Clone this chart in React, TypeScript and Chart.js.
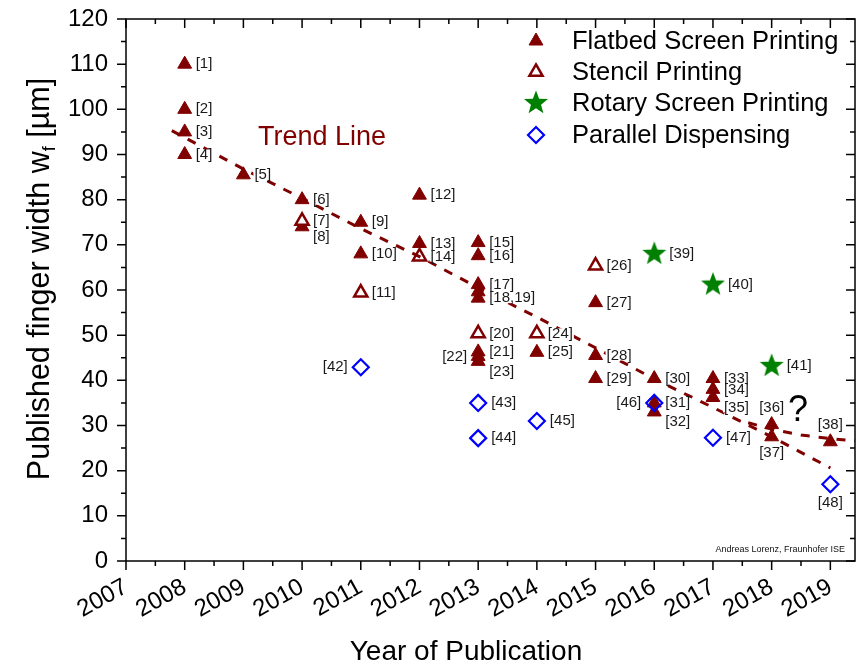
import React, { useEffect, useRef } from 'react';
import { Chart, registerables } from 'chart.js';
import { drawPoint } from 'chart.js/helpers';

Chart.register(...registerables);

// ---------------- data ----------------
const yearTicks = [2007, 2008, 2009, 2010, 2011, 2012, 2013, 2014, 2015, 2016, 2017, 2018, 2019];
const widthTicks = [0, 10, 20, 30, 40, 50, 60, 70, 80, 90, 100, 110, 120];

const flatbedYears = [2008, 2008, 2008, 2008, 2009, 2010, 2010, 2011, 2011, 2012, 2012, 2013, 2013, 2013, 2013, 2013, 2013, 2013, 2013, 2014, 2015, 2015, 2015, 2016, 2016, 2016, 2017, 2017, 2017, 2018, 2018, 2019];
const flatbedWidths = [110, 100, 95, 90, 85.5, 80, 74, 75, 68, 81, 70.3, 70.5, 67.6, 61.2, 59.6, 58.2, 46.3, 45.3, 44.2, 46.2, 57.2, 45.5, 40.4, 40.4, 35, 33, 40.4, 38, 36.2, 30.2, 27.5, 26.4];
const flatbedRefs = ['[1]', '[2]', '[3]', '[4]', '[5]', '[6]', '[8]', '[9]', '[10]', '[12]', '[13]', '[15]', '[16]', '[17]', '', '[18,19]', '[21]', '[22]', '[23]', '[25]', '[27]', '[28]', '[29]', '[30]', '[31]', '[32]', '[33]', '[34]', '[35]', '[36]', '[37]', '[38]'];
const flatbedAnchors = ['r', 'r', 'r', 'r', 'r', 'r', 'rb', 'r', 'r', 'r', 'r', 'r', 'r', 'r', 'r', 'r', 'r', 'l', 'rb', 'r', 'r', 'r', 'r', 'r', 'r', 'rb', 'r', 'r', 'rb', 't', 'b', 't'];

const stencilYears = [2010, 2011, 2012, 2013, 2014, 2015];
const stencilWidths = [75.3, 59.4, 67.4, 50.4, 50.4, 65.4];
const stencilRefs = ['[7]', '[11]', '[14]', '[20]', '[24]', '[26]'];
const stencilAnchors = ['r', 'r', 'r', 'r', 'r', 'r'];

const rotaryYears = [2016, 2017, 2018];
const rotaryWidths = [68, 61.2, 43.2];
const rotaryRefs = ['[39]', '[40]', '[41]'];
const rotaryAnchors = ['r', 'r', 'r'];

const dispensingYears = [2011, 2013, 2013, 2014, 2016, 2017, 2019];
const dispensingWidths = [42.9, 35, 27.2, 31, 35, 27.3, 17];
const dispensingRefs = ['[42]', '[43]', '[44]', '[45]', '[46]', '[47]', '[48]'];
const dispensingAnchors = ['l', 'r', 'r', 'r', 'l', 'r', 'b'];

const trendYears = [2007.78, 2009, 2010, 2011, 2012, 2013, 2014, 2015, 2016, 2017, 2018, 2019];
const trendWidths = [95.3, 86.8, 80.3, 73.6, 67.4, 60.5, 54, 47.2, 40.3, 34, 27.5, 20.6];
const saturationYears = [2017.6, 2018, 2018.5, 2019, 2019.42];
const saturationWidths = [30.6, 29.2, 27.9, 27.1, 26.6];

const seriesNames = ['Flatbed Screen Printing', 'Stencil Printing', 'Rotary Screen Printing', 'Parallel Dispensing'];

// ---------------- styling ----------------
const FONT = '"Liberation Sans", Arial, Helvetica, sans-serif';
const DARK_RED = '#800000';
const GREEN = '#008000';
const BLUE = '#0000ff';

function makeStar(r: number, color: string): HTMLCanvasElement {
  const s = Math.ceil(2 * r + 4);
  const c = document.createElement('canvas');
  c.width = s;
  c.height = s;
  const g = c.getContext('2d')!;
  g.fillStyle = color;
  g.beginPath();
  for (let i = 0; i < 10; i++) {
    const rad = i % 2 === 0 ? r : r * 0.42;
    const a = -Math.PI / 2 + (i * Math.PI) / 5;
    const px = s / 2 + rad * Math.cos(a);
    const py = s / 2 + rad * Math.sin(a);
    if (i === 0) g.moveTo(px, py);
    else g.lineTo(px, py);
  }
  g.closePath();
  g.fill();
  return c;
}

const zip = (xs: number[], ys: number[]) => xs.map((x, i) => ({ x, y: ys[i] }));

export default function App() {
  const ref = useRef<HTMLCanvasElement | null>(null);

  useEffect(() => {
    document.body.style.margin = '0';
    const canvas = ref.current;
    if (!canvas) return;
    const star = makeStar(12.6, GREEN);

    const markerSeries = [
      { refs: flatbedRefs, anchors: flatbedAnchors, gap: 11, vgap: 16 },
      { refs: stencilRefs, anchors: stencilAnchors, gap: 11, vgap: 16 },
      { refs: rotaryRefs, anchors: rotaryAnchors, gap: 15, vgap: 18 },
      { refs: dispensingRefs, anchors: dispensingAnchors, gap: 13, vgap: 19 },
    ];

    const legendItems = [
      { pointStyle: 'triangle', radius: 8, fill: DARK_RED, stroke: DARK_RED, bw: 1 },
      { pointStyle: 'triangle', radius: 7.6, fill: '#ffffff', stroke: DARK_RED, bw: 2.5 },
      { pointStyle: star, radius: 12.6, fill: GREEN, stroke: GREEN, bw: 0 },
      { pointStyle: 'rectRot', radius: 8, fill: 'rgba(0,0,0,0)', stroke: BLUE, bw: 2.2 },
    ];

    const annotate = {
      id: 'annotate',
      afterDatasetsDraw(chart: any) {
        const { ctx } = chart;
        ctx.save();
        ctx.font = `15px ${FONT}`;
        ctx.textBaseline = 'middle';
        markerSeries.forEach((s, di) => {
          const meta = chart.getDatasetMeta(di);
          meta.data.forEach((pt: any, i: number) => {
            const text = s.refs[i];
            if (!text) return;
            const a = s.anchors[i];
            let tx = pt.x;
            let ty = pt.y;
            let align: CanvasTextAlign = 'left';
            if (a === 'r') tx = pt.x + s.gap;
            else if (a === 'rb') { tx = pt.x + s.gap; ty = pt.y + 10; }
            else if (a === 'l') { tx = pt.x - s.gap; align = 'right'; }
            else if (a === 't') { align = 'center'; ty = pt.y - s.vgap - 1; }
            else if (a === 'b') { align = 'center'; ty = pt.y + s.vgap; }
            const w = ctx.measureText(text).width;
            const bx = align === 'left' ? tx : align === 'right' ? tx - w : tx - w / 2;
            ctx.fillStyle = '#ffffff';
            ctx.fillRect(bx - 1, ty - 5, w + 2, 10);
            ctx.fillStyle = '#1a1a1a';
            ctx.textAlign = align;
            ctx.fillText(text, tx, ty);
          });
        });
        ctx.restore();
      },
      afterDraw(chart: any) {
        const { ctx, chartArea } = chart;
        const { left, right, top, bottom } = chartArea;
        const xs = chart.scales.x;
        const ys = chart.scales.y;
        ctx.save();
        // frame
        ctx.strokeStyle = '#000';
        ctx.lineWidth = 1.5;
        ctx.strokeRect(left, top, right - left, bottom - top);
        ctx.beginPath();
        const x0 = yearTicks[0];
        for (let v = x0; v <= xs.max + 1e-6; v += 0.5) {
          const px = xs.getPixelForValue(v);
          const major = Math.abs(v - Math.round(v)) < 1e-6;
          const len = major ? 9 : 5;
          ctx.moveTo(px, bottom);
          ctx.lineTo(px, bottom + len);
          ctx.moveTo(px, top);
          ctx.lineTo(px, top + len);
        }
        for (let v = widthTicks[0]; v <= widthTicks[widthTicks.length - 1] + 1e-6; v += 5) {
          const py = ys.getPixelForValue(v);
          const major = v % 10 === 0;
          const len = major ? 9 : 5;
          ctx.moveTo(left - len, py);
          ctx.lineTo(left, py);
          ctx.moveTo(right - len, py);
          ctx.lineTo(right, py);
        }
        ctx.stroke();

        // y axis title with subscript
        ctx.fillStyle = '#000';
        ctx.textBaseline = 'alphabetic';
        ctx.textAlign = 'left';
        const big = `30.5px ${FONT}`;
        const small = `18px ${FONT}`;
        const p1 = 'Published finger width w';
        const p2 = 'f';
        const p3 = ' [µm]';
        ctx.font = big;
        const w1 = ctx.measureText(p1).width;
        const w3 = ctx.measureText(p3).width;
        ctx.font = small;
        const w2 = ctx.measureText(p2).width;
        const total = w1 + w2 + w3;
        ctx.save();
        ctx.translate(49, 279);
        ctx.rotate(-Math.PI / 2);
        let cx = -total / 2;
        ctx.font = big;
        ctx.fillText(p1, cx, 0);
        cx += w1;
        ctx.font = small;
        ctx.fillText(p2, cx, 6);
        cx += w2;
        ctx.font = big;
        ctx.fillText(p3, cx, 0);
        ctx.restore();

        // x axis title
        ctx.font = `28px ${FONT}`;
        ctx.textAlign = 'center';
        ctx.textBaseline = 'middle';
        ctx.fillText('Year of Publication', 466, 652);

        // trend line label
        ctx.fillStyle = DARK_RED;
        ctx.font = `27px ${FONT}`;
        ctx.textAlign = 'left';
        ctx.textBaseline = 'middle';
        ctx.fillText('Trend Line', 258, 138);

        // question mark
        ctx.fillStyle = '#000';
        ctx.font = `36px ${FONT}`;
        ctx.textAlign = 'center';
        ctx.fillText('?', 798, 411);

        // credit
        ctx.font = `9px ${FONT}`;
        ctx.textAlign = 'right';
        ctx.fillStyle = '#111';
        ctx.fillText('Andreas Lorenz, Fraunhofer ISE', 845, 550);

        // legend
        const rowsY = [41, 72, 103, 135];
        legendItems.forEach((it, i) => {
          ctx.save();
          ctx.fillStyle = it.fill;
          ctx.strokeStyle = it.stroke;
          ctx.lineWidth = it.bw;
          drawPoint(ctx, { pointStyle: it.pointStyle as any, rotation: 0, radius: it.radius, borderWidth: it.bw }, 536, rowsY[i]);
          ctx.restore();
          ctx.fillStyle = '#000';
          ctx.font = `25.5px ${FONT}`;
          ctx.textAlign = 'left';
          ctx.textBaseline = 'middle';
          ctx.fillText(seriesNames[i], 572, rowsY[i] + 1);
        });
        ctx.restore();
      },
    };

    const chart = new Chart(canvas, {
      type: 'scatter',
      data: {
        datasets: [
          {
            label: seriesNames[0],
            data: zip(flatbedYears, flatbedWidths),
            pointStyle: 'triangle',
            pointRadius: 8,
            backgroundColor: DARK_RED,
            borderColor: DARK_RED,
            borderWidth: 1,
            order: 4,
          },
          {
            label: seriesNames[1],
            data: zip(stencilYears, stencilWidths),
            pointStyle: 'triangle',
            pointRadius: 7.6,
            backgroundColor: '#ffffff',
            borderColor: DARK_RED,
            borderWidth: 2.5,
            order: 3,
          },
          {
            label: seriesNames[2],
            data: zip(rotaryYears, rotaryWidths),
            pointStyle: star,
            pointRadius: 12.6,
            backgroundColor: GREEN,
            borderColor: GREEN,
            borderWidth: 0,
            order: 2,
          },
          {
            label: seriesNames[3],
            data: zip(dispensingYears, dispensingWidths),
            pointStyle: 'rectRot',
            pointRadius: 8,
            backgroundColor: 'rgba(0,0,0,0)',
            borderColor: BLUE,
            borderWidth: 2.2,
            order: 1,
          },
          {
            label: 'Trend',
            data: zip(trendYears, trendWidths),
            showLine: true,
            pointRadius: 0,
            borderColor: DARK_RED,
            borderWidth: 3,
            borderDash: [9, 9],
            order: 0,
          },
          {
            label: 'Saturation',
            data: zip(saturationYears, saturationWidths),
            showLine: true,
            pointRadius: 0,
            borderColor: DARK_RED,
            borderWidth: 3,
            borderDash: [9, 9],
            order: 0,
          },
        ],
      },
      options: {
        animation: false,
        responsive: true,
        maintainAspectRatio: false,
        events: [],
        layout: { autoPadding: false, padding: { top: 19, right: 5, left: 0, bottom: 0 } },
        plugins: {
          legend: { display: false },
          tooltip: { enabled: false },
        },
        scales: {
          x: {
            type: 'linear',
            min: 2007,
            max: 2019.42,
            grid: { display: false },
            border: { display: false },
            afterBuildTicks: (s: any) => {
              s.ticks = yearTicks.map((v) => ({ value: v }));
            },
            afterFit: (s: any) => {
              s.height = 105;
              s.paddingLeft = 0;
              s.paddingRight = 0;
            },
            ticks: {
              autoSkip: false,
              maxRotation: 29,
              minRotation: 29,
              padding: 4,
              color: '#000',
              font: { family: FONT, size: 24 },
              callback: (v: any) => String(v),
            },
          },
          y: {
            type: 'linear',
            min: 0,
            max: 120,
            grid: { display: false },
            border: { display: false },
            afterBuildTicks: (s: any) => {
              s.ticks = widthTicks.map((v) => ({ value: v }));
            },
            afterFit: (s: any) => {
              s.width = 126;
              s.paddingTop = 0;
              s.paddingBottom = 0;
            },
            ticks: {
              padding: 10,
              color: '#000',
              font: { family: FONT, size: 24 },
              callback: (v: any) => String(v),
            },
          },
        },
      },
      plugins: [annotate],
    });

    return () => chart.destroy();
  }, []);

  return (
    <div style={{ width: 860, height: 666, position: 'relative', background: '#fff' }}>
      <canvas ref={ref} width={860} height={666} />
    </div>
  );
}
